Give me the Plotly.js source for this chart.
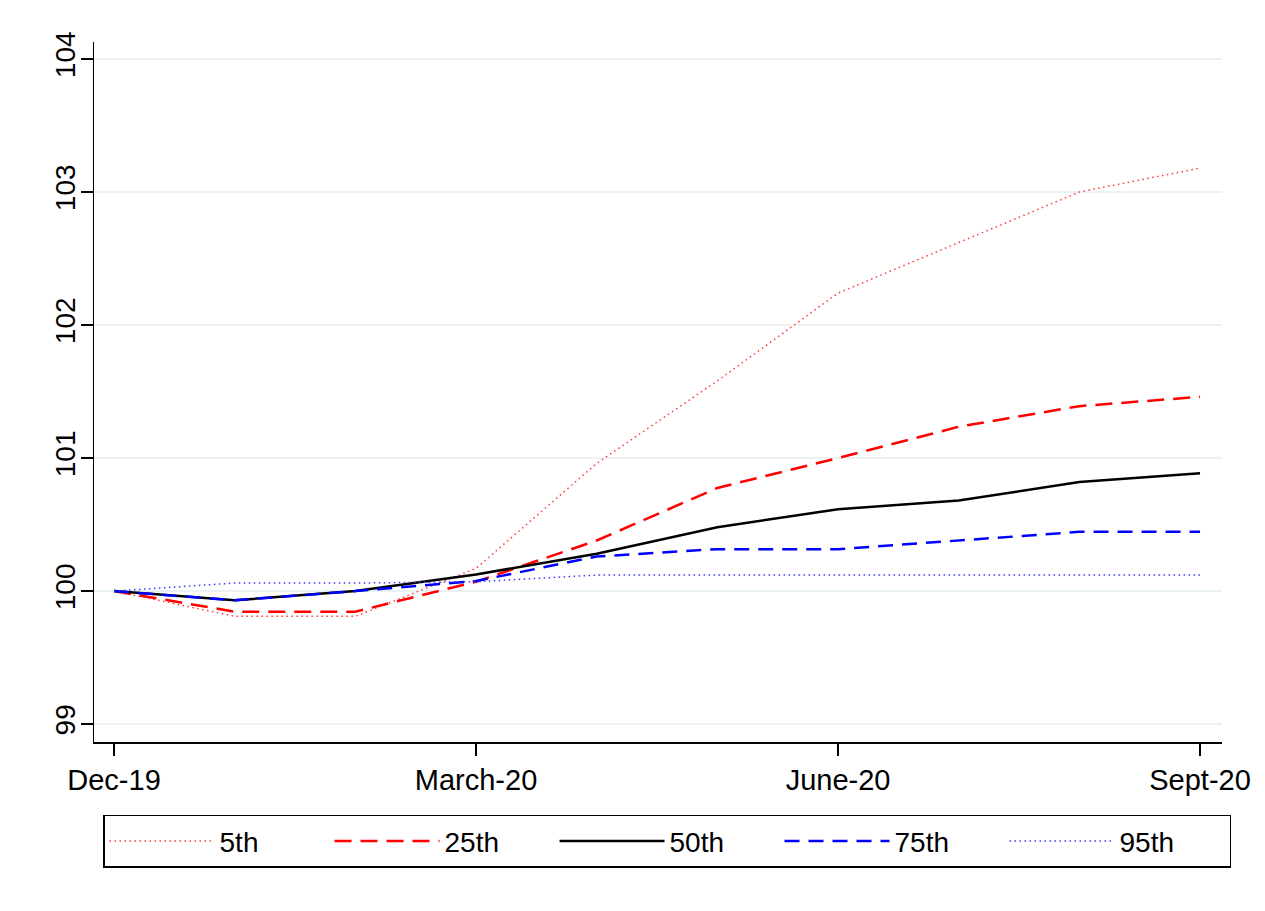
<!DOCTYPE html>
<html>
<head>
<meta charset="utf-8">
<script src="https://cdn.plot.ly/plotly-3.0.1.min.js"></script>
<style>html,body{margin:0;padding:0;background:#fff;}#chart{width:1265px;height:911px;}</style>
</head>
<body>
<div id="chart"></div>
<script>
const months = ["Dec-19","Jan-20","Feb-20","Mar-20","Apr-20","May-20","Jun-20","Jul-20","Aug-20","Sept-20"];
const tickMonths = ["Dec-19","Mar-20","Jun-20","Sept-20"];
const tickLabels = ["Dec-19","March-20","June-20","Sept-20"];
const p5  = [100, 99.81, 99.81, 100.17, 100.96, 101.58, 102.24, 102.62, 103.00, 103.18];
const p25 = [100, 99.845, 99.845, 100.07, 100.38, 100.775, 101.00, 101.235, 101.39, 101.46];
const p50 = [100, 99.93, 100.00, 100.125, 100.28, 100.48, 100.615, 100.68, 100.82, 100.885];
const p75 = [100, 99.93, 100.00, 100.075, 100.26, 100.315, 100.315, 100.38, 100.445, 100.445];
const p95 = [100, 100.06, 100.06, 100.07, 100.12, 100.12, 100.12, 100.12, 100.12, 100.12];
const seriesNames = ["5th","25th","50th","75th","95th"];

const font = "Liberation Sans, Arial, sans-serif";
const traces = [
  {x: months, y: p5, name: seriesNames[0], mode: "lines", line: {color: "#ff3a3a", width: 1.5, dash: "1.5px,3.5px"}},
  {x: months, y: p25, name: seriesNames[1], mode: "lines", line: {color: "#ff0000", width: 2.5, dash: "17px,9px"}},
  {x: months, y: p50, name: seriesNames[2], mode: "lines", line: {color: "#000000", width: 2.5}},
  {x: months, y: p75, name: seriesNames[3], mode: "lines", line: {color: "#0000ff", width: 2.5, dash: "15px,9px"}},
  {x: months, y: p95, name: seriesNames[4], mode: "lines", line: {color: "#3a3aff", width: 1.5, dash: "1.5px,3.5px"}}
];

const layout = {
  width: 1265, height: 911,
  paper_bgcolor: "#ffffff", plot_bgcolor: "#ffffff",
  margin: {l: 94, r: 43, t: 42, b: 169},
  showlegend: true,
  font: {family: font, size: 28, color: "#000"},
  xaxis: {
    type: "category",
    categoryorder: "array", categoryarray: months,
    range: [-0.166, 9.182],
    tickvals: tickMonths, ticktext: tickLabels,
    ticks: "outside", ticklen: 12, tickwidth: 1.5, tickcolor: "#000",
    showline: true, linecolor: "#000", linewidth: 1.5,
    showgrid: false, zeroline: false,
    tickfont: {family: font, size: 29, color: "#000"}
  },
  yaxis: {
    range: [98.865, 104.128],
    tickvals: [99, 100, 101, 102, 103, 104],
    ticktext: ["99","100","101","102","103","104"],
    tickangle: -90,
    ticks: "outside", ticklen: 12, tickwidth: 1.5, tickcolor: "#000",
    ticklabelstandoff: -6,
    showline: true, linecolor: "#000", linewidth: 1.5,
    showgrid: true, gridcolor: "#eaf2f3", gridwidth: 2.5,
    zeroline: false,
    tickfont: {family: font, size: 28, color: "#000"}
  },
  legend: {
    orientation: "h",
    x: 0.008, xanchor: "left",
    y: -0.104, yanchor: "top",
    bordercolor: "#000", borderwidth: 1.5,
    bgcolor: "#fff",
    itemwidth: 105,
    entrywidth: 105,
    font: {family: font, size: 28, color: "#000"}
  }
};

Plotly.newPlot("chart", traces, layout, {displayModeBar: false, staticPlot: true});
</script>
</body>
</html>
